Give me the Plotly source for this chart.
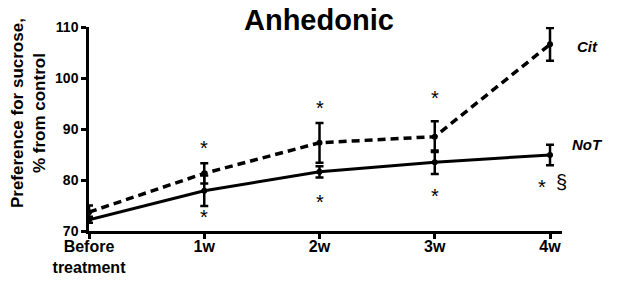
import plotly.graph_objects as go

categories = ["Before<br>treatment", "1w", "2w", "3w", "4w"]
x_pos = [0, 1, 2, 3, 4]
cit = [73.7, 81.3, 87.3, 88.5, 106.6]
cit_err = [1.3, 2.0, 3.9, 3.0, 3.2]
no_t = [72.2, 77.9, 81.6, 83.5, 84.9]
no_t_err = [0.6, 3.0, 1.1, 2.3, 2.0]
y_ticks = [70, 80, 90, 100, 110]

# significance marks (x, y, text)
stars_x = [1, 1, 2, 2, 3, 3, 3.93, 4.10]
stars_y = [86.2, 72.8, 94.2, 75.6, 96.1, 76.9, 78.6, 79.6]
stars_t = ["*", "*", "*", "*", "*", "*", "*", "§"]

FONT = "Arial, Liberation Sans, sans-serif"

fig = go.Figure()
fig.add_trace(go.Scatter(
    x=x_pos, y=cit, mode="lines+markers",
    line=dict(color="black", width=3.5, dash="8px,5px"),
    marker=dict(color="black", size=6),
    error_y=dict(type="data", array=cit_err, color="black", thickness=2.5, width=4),
    cliponaxis=False, showlegend=False))
fig.add_trace(go.Scatter(
    x=x_pos, y=no_t, mode="lines+markers",
    line=dict(color="black", width=3),
    marker=dict(color="black", size=6),
    error_y=dict(type="data", array=no_t_err, color="black", thickness=2.5, width=4),
    cliponaxis=False, showlegend=False))

for sx, sy, st in zip(stars_x, stars_y, stars_t):
    fig.add_annotation(x=sx, y=sy, text=st, showarrow=False,
                       xanchor="center", yanchor="middle",
                       font=dict(family=FONT, size=20, color="black"))

fig.add_annotation(xref="paper", x=1.053, y=106.1, text="<b><i>Cit</i></b>",
                   showarrow=False, xanchor="center", yanchor="middle",
                   font=dict(family=FONT, size=15, color="black"))
fig.add_annotation(xref="paper", x=1.053, y=86.9, text="<b><i>NoT</i></b>",
                   showarrow=False, xanchor="center", yanchor="middle",
                   font=dict(family=FONT, size=15, color="black"))

fig.add_annotation(xref="paper", yref="paper", x=0.486, y=1.034,
                   xanchor="center", yanchor="middle",
                   text="<b>Anhedonic</b>", showarrow=False,
                   font=dict(family=FONT, size=29, color="black"))
fig.add_annotation(xref="paper", yref="paper", x=-0.129, y=0.578,
                   xanchor="center", yanchor="middle",
                   text="<b>Preference for sucrose,<br>% from control</b>",
                   textangle=-90, showarrow=False,
                   font=dict(family=FONT, size=17, color="black"))

fig.update_layout(
    width=617, height=281,
    margin=dict(l=89, r=55, t=27, b=50, autoexpand=False),
    paper_bgcolor="white", plot_bgcolor="white",
    font=dict(family=FONT, color="black"),
    xaxis=dict(range=[0, 4.104], tickvals=x_pos, automargin=False,
               ticktext=["<b>" + c + "</b>" for c in categories],
               showline=True, linecolor="black", linewidth=2.5,
               ticks="outside", ticklen=5, tickwidth=2.5, tickcolor="black",
               ticklabelstandoff=-6,
               showgrid=False, zeroline=False,
               tickfont=dict(family=FONT, size=16, color="black")),
    yaxis=dict(range=[70, 110], tickvals=y_ticks, automargin=False,
               ticktext=["<b>%d</b>" % v for v in y_ticks],
               showline=True, linecolor="black", linewidth=2.5,
               ticks="outside", ticklen=5, tickwidth=2.5, tickcolor="black",
               showgrid=False, zeroline=False,
               tickfont=dict(family=FONT, size=14, color="black")),
)

fig.write_html("out.html", config={"displayModeBar": False},
               post_script="document.body.style.margin='0';")
